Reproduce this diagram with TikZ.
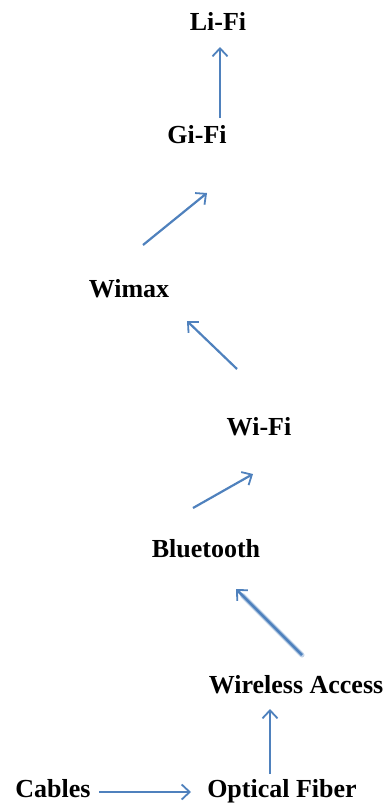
\documentclass[tikz,border=0pt]{standalone}
\usepackage{fontspec}
\setmainfont{Liberation Serif}
\usetikzlibrary{arrows.meta,calc}
\definecolor{arrblue}{HTML}{4F81BD}
\tikzset{
  lbl/.style={anchor=base, inner sep=0pt, font=\fontsize{26}{30}\selectfont\bfseries},
  conn/.style={draw=arrblue, line width=2.2pt, -{Straight Barb[length=8pt, width=15pt, line width=1.8pt]}},
}
\begin{document}
\begin{tikzpicture}[x=1pt, y=-1pt]
\useasboundingbox (0,0) rectangle (386,803);
\node[lbl] (lifi) at (218,30) {Li-Fi};
\node[lbl] (gifi) at (197,143) {Gi-Fi};
\node[lbl] (wimax) at (129,297) {Wimax};
\node[lbl] (wifi) at (259,435) {Wi-Fi};
\node[lbl] (bt) at (206,557) {Bluetooth};
\node[lbl] (wa) at (296,693) {Wireless Access};
\node[lbl] (cab) at (53,797) {Cables};
\node[lbl] (of) at (282,797) {Optical Fiber};
% arrow endpoints
\coordinate (c1) at (99,792);  \coordinate (c2) at (191,792);
\coordinate (o1) at (270,774); \coordinate (o2) at (270,709);
\coordinate (w1) at (302,655); \coordinate (w2) at (236,589);
\coordinate (b1) at (193,508); \coordinate (b2) at (253,474);
\coordinate (f1) at (237,369); \coordinate (f2) at (187,321);
\coordinate (m1) at (143,245); \coordinate (m2) at (207,193);
\coordinate (g1) at (220,118); \coordinate (g2) at (220,47);
\draw[conn, line width=1.6pt] (c1) -- (c2);
\draw[conn] (o1) -- (o2);
\draw[draw=arrblue!35, line width=5pt, line cap=round] (w1) -- ($(w2)!0.1!(w1)$);
\draw[conn, line width=2.6pt] (w1) -- (w2);
\draw[conn] (b1) -- (b2);
\draw[conn] (f1) -- (f2);
\draw[conn] (m1) -- (m2);
\draw[conn] (g1) -- (g2);
\end{tikzpicture}
\end{document}
